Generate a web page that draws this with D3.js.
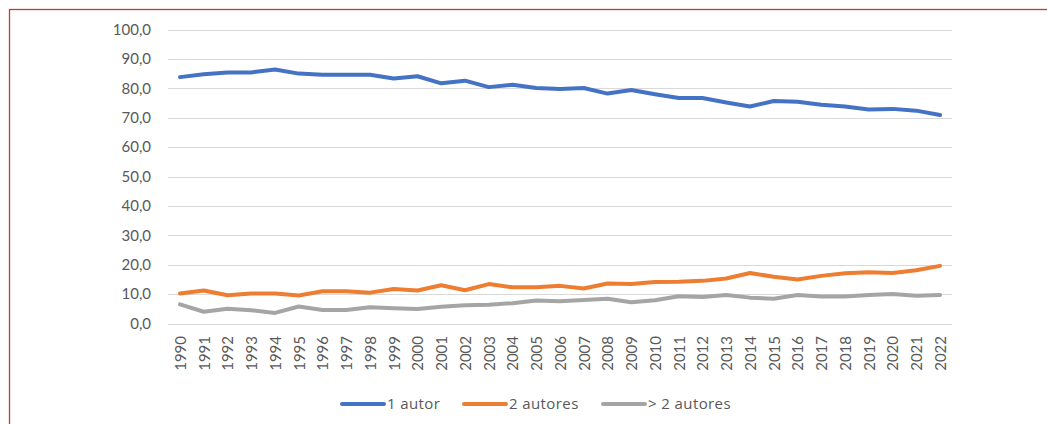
<!DOCTYPE html>
<html>
<head>
<meta charset="utf-8">
<script src="https://cdn.jsdelivr.net/npm/d3@7"></script>
<style>
  body { margin: 0; background: #fff; }
  svg text { font-family: Lato, "Open Sans", sans-serif; fill: #595959; }
</style>
</head>
<body>
<svg id="chart" width="1047" height="424"></svg>
<script>
var years = d3.range(1990, 2023).map(String);
var umAutor = [83.8, 84.8, 85.4, 85.4, 86.4, 85.0, 84.6, 84.6, 84.6, 83.3, 84.1, 81.7, 82.6, 80.4, 81.2,
  80.1, 79.8, 80.1, 78.2, 79.4, 78.0, 76.7, 76.7, 75.2, 73.8, 75.7, 75.4, 74.4, 73.8, 72.8, 73.0, 72.4, 70.9];
var doisAutores = [10.2, 11.2, 9.6, 10.2, 10.2, 9.5, 11.0, 11.0, 10.5, 11.7, 11.2, 13.0, 11.3, 13.4, 12.3,
  12.3, 12.8, 11.9, 13.6, 13.4, 14.1, 14.2, 14.5, 15.3, 17.2, 15.9, 15.0, 16.2, 17.1, 17.4, 17.2, 18.1, 19.6];
var maisAutores = [6.5, 4.0, 5.0, 4.5, 3.6, 5.8, 4.6, 4.6, 5.5, 5.2, 4.9, 5.7, 6.2, 6.4, 6.9,
  7.8, 7.6, 8.0, 8.4, 7.2, 7.9, 9.3, 9.0, 9.7, 8.8, 8.4, 9.7, 9.2, 9.2, 9.7, 10.0, 9.4, 9.7];
var seriesNames = ["1 autor", "2 autores", "> 2 autores"];
var colors = ["#4472C4", "#ED7D31", "#A5A5A5"];
var yTicks = [0, 10, 20, 30, 40, 50, 60, 70, 80, 90, 100];

var svg = d3.select("#chart");

// frame (cut off at right and bottom)
svg.append("rect")
  .attr("x", 9.5).attr("y", 9.5)
  .attr("width", 1100).attr("height", 500)
  .attr("fill", "none")
  .attr("stroke", "#C0393F")
  .attr("stroke-width", 1.3);

var x = d3.scalePoint()
  .domain(years)
  .range([180, 940]);
var y = d3.scaleLinear()
  .domain([0, 100])
  .range([323.5, 29.5]);

// gridlines
svg.append("g")
  .selectAll("line")
  .data(yTicks)
  .enter()
  .append("line")
  .attr("x1", 168).attr("x2", 952)
  .attr("y1", function(d){ return Math.round(y(d)) + 0.5; })
  .attr("y2", function(d){ return Math.round(y(d)) + 0.5; })
  .attr("stroke", "#D9D9D9")
  .attr("stroke-width", 1);

// y labels
var axisY = d3.axisLeft(y)
  .tickValues(yTicks)
  .tickSize(0)
  .tickPadding(0)
  .tickFormat(function(d){ return d.toFixed(1).replace(".", ","); });
svg.append("g")
  .attr("transform", "translate(151,0)")
  .call(axisY)
  .call(function(g){ g.select(".domain").remove(); })
  .selectAll("text")
  .style("font-size", "15px")
  .style("font-family", "Lato, 'Open Sans', sans-serif")
  .attr("fill", "#595959");

// x labels
var axisX = d3.axisBottom(x).tickSize(0);
var gx = svg.append("g")
  .attr("transform", "translate(0,336)")
  .call(axisX);
gx.select(".domain").remove();
gx.selectAll("text")
  .attr("transform", "rotate(-90)")
  .attr("text-anchor", "end")
  .attr("x", 0).attr("y", 0)
  .attr("dy", "0.35em")
  .style("font-size", "15px")
  .style("font-family", "Lato, 'Open Sans', sans-serif")
  .attr("fill", "#595959");

// lines
var allSeries = [umAutor, doisAutores, maisAutores];
var line = d3.line()
  .x(function(d, i){ return x(years[i]); })
  .y(function(d){ return y(d); });
svg.selectAll("path.serie")
  .data(allSeries)
  .enter()
  .append("path")
  .attr("class", "serie")
  .attr("d", line)
  .attr("fill", "none")
  .attr("stroke", function(d, i){ return colors[i]; })
  .attr("stroke-width", 4)
  .attr("stroke-linejoin", "round")
  .attr("stroke-linecap", "round");

// legend
var legendX = [342, 464, 603];
var leg = svg.selectAll("g.leg")
  .data(seriesNames)
  .enter()
  .append("g")
  .attr("class", "leg")
  .attr("transform", function(d, i){ return "translate(" + legendX[i] + ",404)"; });
leg.append("line")
  .attr("x1", 0).attr("x2", 42)
  .attr("y1", 0).attr("y2", 0)
  .attr("stroke", function(d, i){ return colors[i]; })
  .attr("stroke-width", 4)
  .attr("stroke-linecap", "round");
leg.append("text")
  .attr("x", 45)
  .attr("dy", "0.35em")
  .style("font-size", "15px")
  .style("font-family", "'Open Sans', Lato, sans-serif")
  .style("letter-spacing", "0.4px")
  .text(function(d){ return d; });
</script>
</body>
</html>
